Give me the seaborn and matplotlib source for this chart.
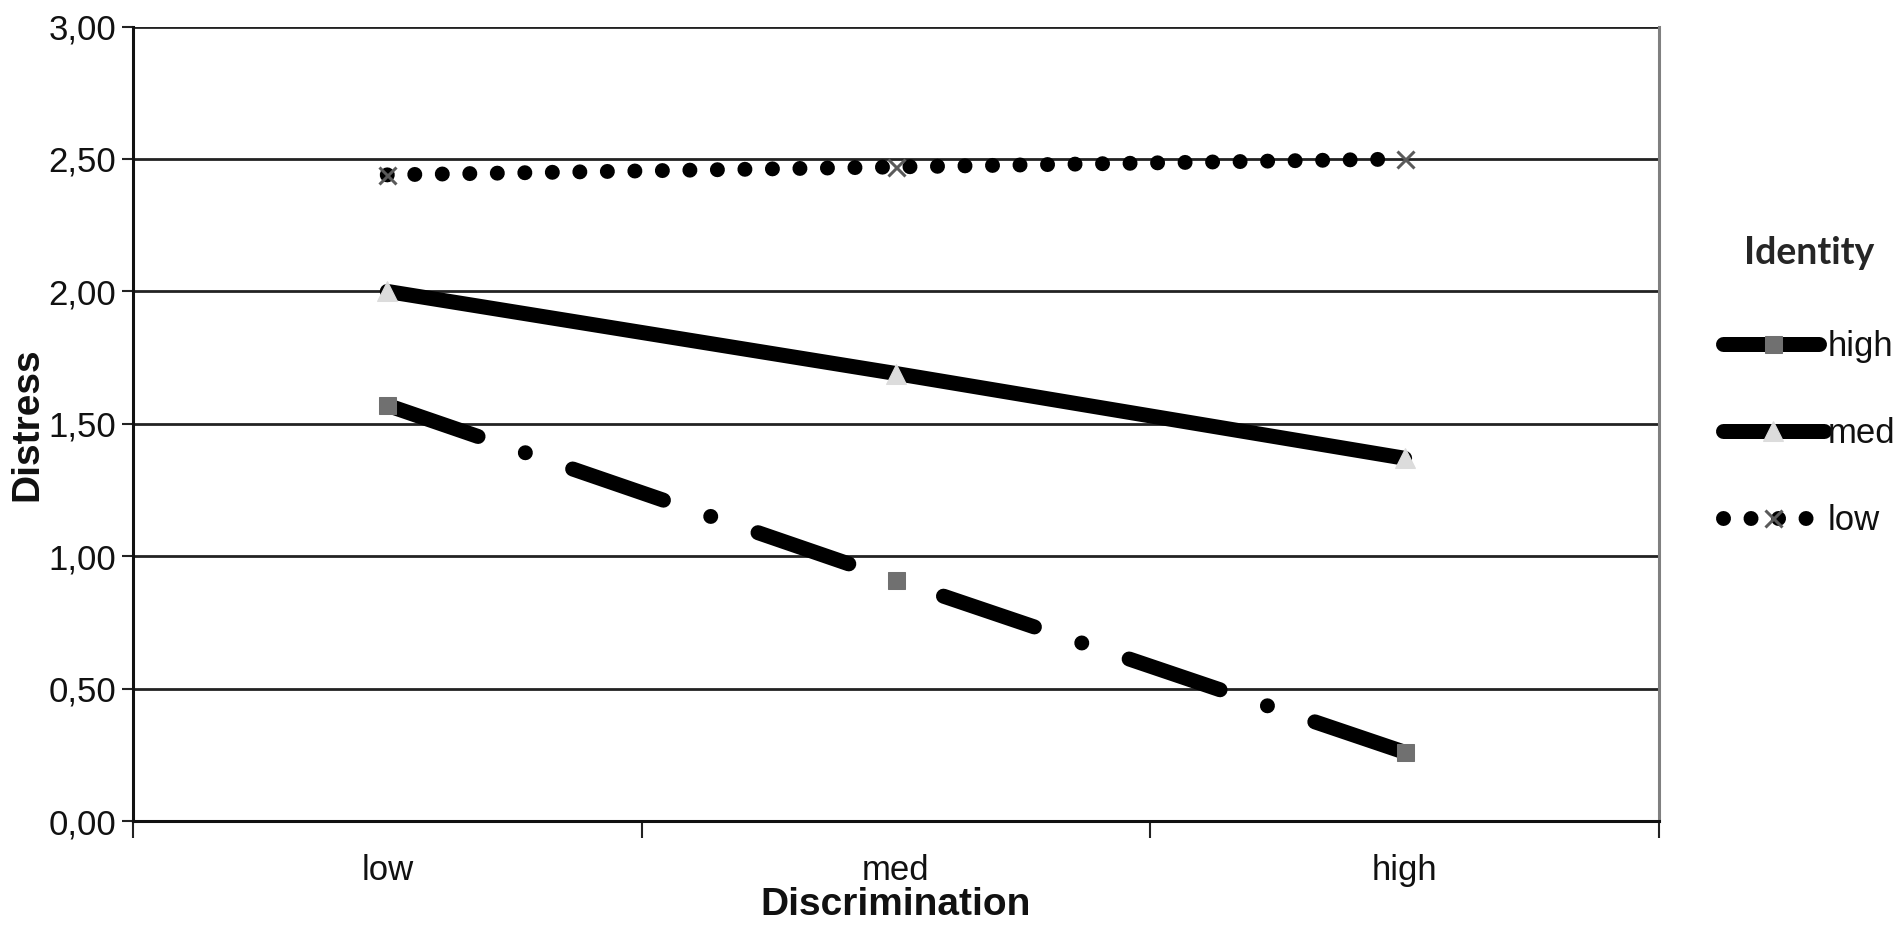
import matplotlib
matplotlib.use('Agg')
import matplotlib.pyplot as plt
import seaborn as sns
import pandas as pd
from matplotlib.ticker import FuncFormatter, FixedLocator

# Values
discrimination = ['low', 'med', 'high']
identity_levels = ['high', 'med', 'low']
distress_high = [1.57, 0.91, 0.26]
distress_med = [2.00, 1.69, 1.37]
distress_low = [2.44, 2.47, 2.50]
y_ticks = [0.0, 0.5, 1.0, 1.5, 2.0, 2.5, 3.0]

df = pd.DataFrame({
    'Discrimination': discrimination * 3,
    'Identity': [lvl for lvl in identity_levels for _ in discrimination],
    'Distress': distress_high + distress_med + distress_low,
})

sns.set_theme(style='white')
plt.rcParams['font.family'] = ['Liberation Sans', 'DejaVu Sans']
plt.rcParams['lines.scale_dashes'] = False

fig = plt.figure(figsize=(18.99, 9.32), dpi=100)
ax = fig.add_axes([0.070, 0.119, 0.8036, 0.8525])

px = 72 / 100  # points per pixel
lw = 15 * px

styles = {
    'high': dict(linestyle=(0, (96 * px, 50 * px, 0.01, 50 * px)), marker='s',
                 markerfacecolor='#707070', markeredgecolor='#707070', markersize=17 * px,
                 dash_capstyle='round'),
    'med': dict(linestyle='-', marker='^', markerfacecolor='#dcdcdc',
                markeredgecolor='#dcdcdc', markersize=20 * px),
    'low': dict(linestyle=(0, (0.01, 27.5 * px)), marker='x', markerfacecolor='#5a5a5a',
                markeredgecolor='#5a5a5a', markersize=17 * px, markeredgewidth=3 * px,
                dash_capstyle='round'),
}

for lvl in identity_levels:
    sub = df[df['Identity'] == lvl]
    sns.lineplot(data=sub, x='Discrimination', y='Distress', color='black',
                 linewidth=lw, label=lvl, ax=ax, sort=False, **styles[lvl])

ax.set_xlim(-0.5, 2.5)
ax.set_ylim(0, 3.0)
ax.yaxis.set_major_locator(FixedLocator(y_ticks))
ax.yaxis.set_major_formatter(FuncFormatter(lambda v, p: f'{v:.2f}'.replace('.', ',')))
ax.grid(axis='y', color='#222222', linewidth=2)
ax.grid(axis='x', visible=False)
ax.set_axisbelow(True)

ax.set_xticks([0, 1, 2])
ax.set_xticklabels(discrimination)
ax.set_xticks([-0.5, 0.5, 1.5, 2.5], minor=True)
ax.tick_params(axis='x', which='major', length=0, labelsize=25, pad=24, colors='#111111')
ax.tick_params(axis='x', which='minor', length=12, width=1.5, color='#222222',
               direction='out', bottom=True)
ax.tick_params(axis='y', which='major', length=8, width=1.5, color='#222222',
               direction='out', left=True, labelsize=25, pad=4, labelcolor='#111111')

for side in ['left', 'bottom']:
    ax.spines[side].set_color('#111111')
    ax.spines[side].set_linewidth(2.2)
ax.spines['top'].set_visible(False)
ax.spines['right'].set_color('#808080')
ax.spines['right'].set_linewidth(2.2)

ax.set_xlabel('Discrimination', fontsize=28, fontweight='bold', labelpad=0, color='#111111')
ax.set_ylabel('Distress', fontsize=28, fontweight='bold', labelpad=2, color='#111111')

leg = ax.legend(title='Identity', loc='upper left', bbox_to_anchor=(1.042, 0.736),
                frameon=False, fontsize=25, handlelength=2.9, handletextpad=0.1,
                labelspacing=1.56, borderaxespad=0.0, borderpad=0.0,
                title_fontproperties={'family': 'Lato', 'weight': 'bold', 'size': 27})
leg._legend_box.sep = 43
for t in leg.get_texts():
    t.set_color('#111111')

fig.savefig('out.png', dpi=100, facecolor='white')
